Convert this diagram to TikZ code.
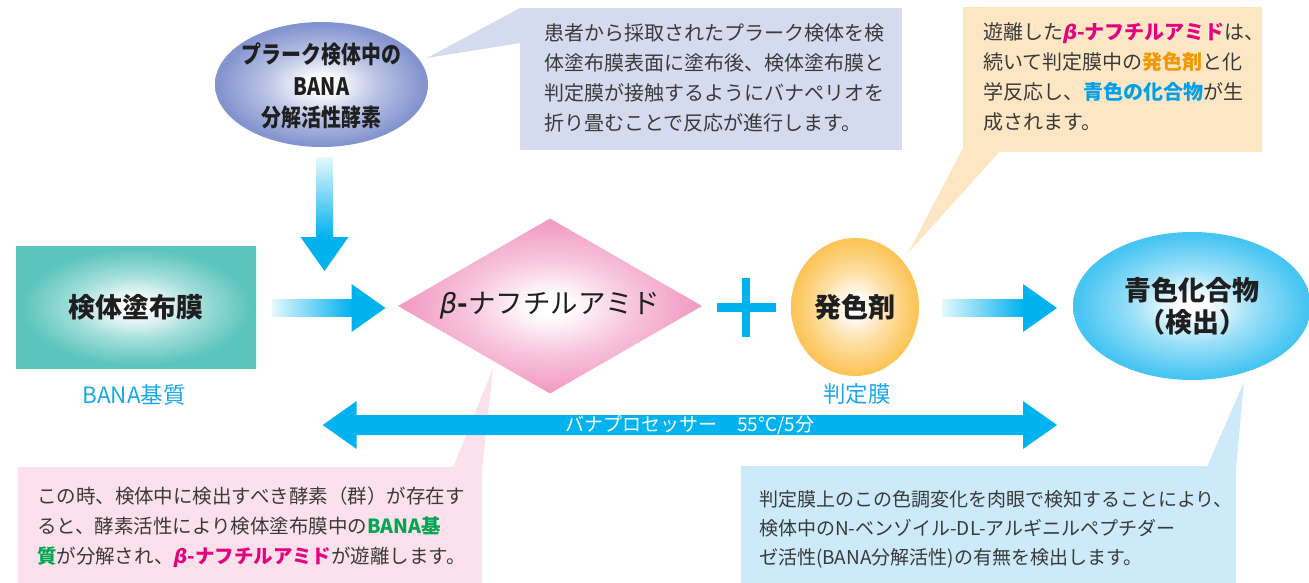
\documentclass[tikz,border=0pt]{standalone}
\usepackage{fontspec}
\setmainfont{Noto Sans CJK JP}
\newfontfamily\jpc[FakeStretch=0.83]{Noto Sans CJK JP}
\newfontfamily\grk{DejaVu Sans}
\usetikzlibrary{calc,shapes.geometric}
\definecolor{peri}{HTML}{8494CF}
\definecolor{lav}{HTML}{D5DBEE}
\definecolor{peach}{HTML}{FDE6C3}
\definecolor{tealc}{HTML}{5BC4BD}
\definecolor{pinkd}{HTML}{F29BC3}
\definecolor{orng}{HTML}{FCC559}
\definecolor{bluee}{HTML}{47C5F2}
\definecolor{cyanA}{HTML}{00B2EE}
\definecolor{pinkbox}{HTML}{FCE1EC}
\definecolor{bluebox}{HTML}{CCEAF9}
\definecolor{txtgray}{HTML}{3A3A3A}
\definecolor{grn}{HTML}{00A651}
\definecolor{mag}{HTML}{E4007F}
\definecolor{orT}{HTML}{F39800}
\definecolor{blT}{HTML}{00A0E9}
\definecolor{lbl}{HTML}{1AA7E6}
\newcommand\mkshade[2]{\pgfdeclareradialshading{#1}{\pgfpoint{0bp}{0bp}}{color(0bp)=(white); color(3bp)=(white); color(13bp)=(#2!55!white); color(24bp)=(#2); color(50bp)=(#2)}}
\mkshade{shPeri}{peri}
\mkshade{shTeal}{tealc}
\mkshade{shPink}{pinkd}
\mkshade{shOrng}{orng}
\mkshade{shBlue}{bluee}
\newcommand\bet{{\grk\bfseries\itshape β}}
\newcommand\rarrow[2]{%
  \shade[left color=cyanA!10, right color=cyanA] ($(#1)+(0,-8.3)$) rectangle ($(#2)+(-33.5,8.3)$);
  \fill[cyanA] ($(#2)+(-34,-24)$) -- (#2) -- ($(#2)+(-34,24)$) -- cycle;}
\tikzset{
  every node/.style={inner sep=0pt, outer sep=0pt},
  notetext/.style={anchor=west, align=left, text=txtgray, font=\fontsize{20}{30}\selectfont},
  maintext/.style={font=\bfseries\fontsize{27}{32}\selectfont, text=black!88},
  lbltext/.style={font=\fontsize{22.5}{24}\selectfont, text=lbl},
}
\begin{document}
\begin{tikzpicture}[x=1pt,y=-1pt]
\useasboundingbox (0,0) rectangle (1309,583);
% callout tails
\fill[lav] (520,8) -- (427,58) -- (520,43) -- cycle;
\fill[peach] (963,148) -- (908,253) -- (1003,148) -- cycle;
\fill[pinkbox] (452,470) -- (493,368) -- (482,470) -- cycle;
\fill[bluebox] (1206,469) -- (1244,382) -- (1236,469) -- cycle;
% callout boxes
\node[fill=lav, minimum width=382, minimum height=142] (note1) at (711,79) {};
\node[fill=peach, minimum width=299, minimum height=145] (note2) at (1112.5,79.5) {};
\node[fill=pinkbox, minimum width=464, minimum height=123] (note3) at (250,528.5) {};
\node[fill=bluebox, minimum width=495, minimum height=124] (note4) at (988.5,528) {};
\node[notetext] (t1) at (544,78) {患者から採取されたプラーク検体を検\\体塗布膜表面に塗布後、検体塗布膜と\\判定膜が接触するようにバナペリオを\\折り畳むことで反応が進行します。};
\node[notetext] (t2) at (983,77) {遊離した{\color{mag}\bfseries\bet-ナフチルアミド}は、\\続いて判定膜中の{\color{orT}\bfseries 発色剤}と化\\学反応し、{\color{blT}\bfseries 青色の化合物}が生\\成されます。};
\node[notetext, font=\fontsize{19.5}{30}\selectfont] (t3) at (37,527) {この時、検体中に検出すべき酵素（群）が存在す\\ると、酵素活性により検体塗布膜中の{\color{grn}\bfseries BANA基}\\{\color{grn}\bfseries 質}が分解され、{\color{mag}\bfseries\bet-ナフチルアミド}が遊離します。};
\node[notetext, font=\fontsize{19}{29}\selectfont] (t4) at (759,529) {判定膜上のこの色調変化を肉眼で検知することにより、\\検体中のN-ベンゾイル-DL-アルギニルペプチダー\\ゼ活性(BANA分解活性)の有無を検出します。};
% main shapes
\node[ellipse, minimum width=213, minimum height=125, shading=shPeri] (enz) at (321.5,84.5) {};
\node[align=center, font=\jpc\bfseries\fontsize{24}{31.5}\selectfont, text=black!88] (enzT) at (321.5,86) {プラーク検体中の\\BANA\\分解活性酵素};
\node[rectangle, minimum width=240, minimum height=122, shading=shTeal, maintext] (box) at (136,307) {検体塗布膜};
\node[diamond, aspect=1.737, minimum width=304, minimum height=175, shading=shPink, maintext, font=\fontsize{27.5}{32}\selectfont] (dia) at (550,306) {{\grk\itshape β}{\bfseries -}ナフチルアミド};
\node[ellipse, minimum width=128, minimum height=138, shading=shOrng, maintext] (dev) at (855,307) {発色剤};
\node[ellipse, minimum width=238, minimum height=148, shading=shBlue, maintext, align=center] (blu) at (1192,306) {青色化合物\\（検出）};
\node[lbltext] (lblA) at (134,395) {BANA基質};
\node[lbltext] (lblB) at (857,394) {判定膜};
% plus sign
\coordinate (pl) at (746,307.5);
\fill[cyanA] ($(pl)+(-29.5,-4.2)$) rectangle ($(pl)+(29.5,4.2)$);
\fill[cyanA] ($(pl)+(-4.2,-29.2)$) rectangle ($(pl)+(4.2,29.2)$);
% down arrow
\coordinate (d0) at ($(enz.south)+(3,11)$);
\coordinate (d1) at (324.5,271);
\shade[top color=cyanA!10, bottom color=cyanA] ($(d0)+(-8.3,0)$) rectangle ($(d1)+(8.3,-33.5)$);
\fill[cyanA] ($(d1)+(-24,-34)$) -- (d1) -- ($(d1)+(24,-34)$) -- cycle;
% right arrows
\coordinate (a1s) at ($(box.east)+(16,1)$);
\coordinate (a1e) at ($(box.east -| dia.west)+(-12.5,1)$);
\rarrow{a1s}{a1e}
\coordinate (a2s) at ($(dev.east)+(23,1)$);
\coordinate (a2e) at ($(dev.east -| blu.west)+(-16,1)$);
\rarrow{a2s}{a2e}
% double arrow
\coordinate (dl) at (322.7,425);
\coordinate (dr) at ($(blu.west |- dl)+(-16,0)$);
\fill[cyanA] (dl) -- ($(dl)+(34,-24)$) -- ($(dl)+(34,-10)$) -- ($(dr)+(-34,-10)$) -- ($(dr)+(-34,-24)$) -- (dr) -- ($(dr)+(-34,24)$) -- ($(dr)+(-34,10)$) -- ($(dl)+(34,10)$) -- ($(dl)+(34,24)$) -- cycle;
\node[text=white, font=\fontsize{19}{20}\selectfont] (proc) at ($(dl)!0.5!(dr)$) {バナプロセッサー\hspace{20pt}55°C/5分};
\end{tikzpicture}
\end{document}
